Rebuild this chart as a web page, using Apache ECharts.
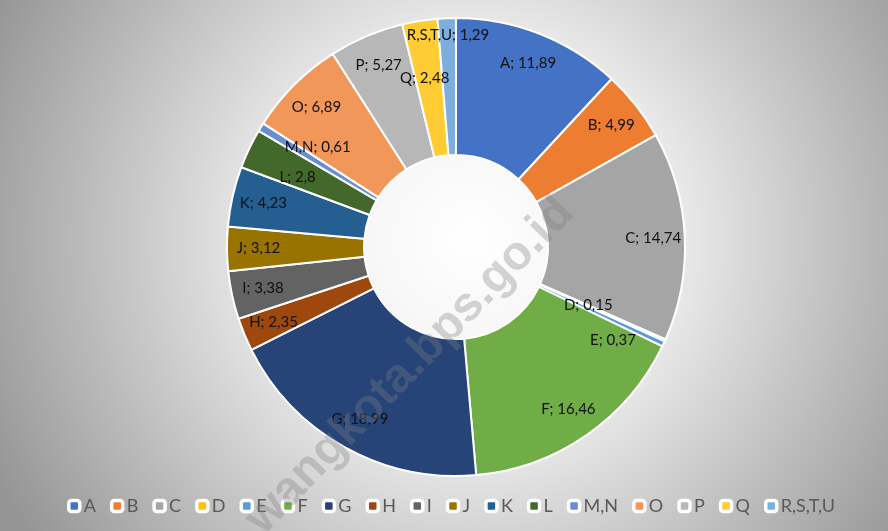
<!DOCTYPE html>
<html>
<head>
<meta charset="utf-8">
<script src="https://cdn.jsdelivr.net/npm/echarts@6/dist/echarts.min.js"></script>
<style>
  html, body { margin: 0; padding: 0; }
  #chart { width: 888px; height: 531px; }
</style>
</head>
<body>
<div id="chart"></div>
<script>
// sector shares (comma decimals in the source)
const categories = ["A", "B", "C", "D", "E", "F", "G", "H", "I", "J", "K", "L", "M,N", "O", "P", "Q", "R,S,T,U"];
const values = [11.89, 4.99, 14.74, 0.15, 0.37, 16.46, 18.99, 2.35, 3.38, 3.12, 4.23, 2.8, 0.61, 6.89, 5.27, 2.48, 1.29];
const colors = ["#4472C4", "#ED7D31", "#A5A5A5", "#FFC000", "#5B9BD5", "#70AD47", "#264478", "#9E480E",
  "#636363", "#997300", "#255E91", "#43682B", "#698ED0", "#F1975A", "#B7B7B7", "#FFCD33", "#7CAFDD"];

// small nudges for crowded labels, like the spreadsheet did by hand
const labelNudge = { "D": [-48, -22], "E": [-22, 10], "Q": [0, 26], "R,S,T,U": [0, -15], "M,N": [30, 4], "L": [20, 15] };

const FONT = "Lato, 'Open Sans', sans-serif";
const chart = echarts.init(document.getElementById("chart"), null, { renderer: "canvas" });

const fmt = (v) => String(v).replace(".", ",");
const ringData = categories.map((name, i) => ({ name, value: values[i] }));
const labelData = categories.map((name, i) => {
  const item = { name, value: values[i] };
  if (labelNudge[name]) item.label = { offset: labelNudge[name] };
  return item;
});

chart.setOption({
  backgroundColor: {
    type: "radial", x: 0.53, y: 0.45, r: 1.0,
    colorStops: [
      { offset: 0, color: "#ffffff" },
      { offset: 0.35, color: "#f0f0f0" },
      { offset: 1, color: "#959595" }
    ]
  },
  color: colors,
  animation: false,
  legend: {
    bottom: 11,
    left: 62,
    icon: "roundRect",
    itemWidth: 11,
    itemHeight: 11,
    itemGap: 14,
    itemStyle: { borderColor: "#ffffff", borderWidth: 3.5 },
    textStyle: { color: "#595959", fontSize: 18, fontFamily: FONT, padding: [0, 0, 0, -1] },
    data: categories
  },
  graphic: [{
    type: "text",
    x: 410, y: 366,
    rotation: 0.8,
    z: 100,
    silent: true,
    style: {
      text: "wangkota.bps.go.id",
      fill: "rgba(128,128,128,0.33)",
      font: "bold 48px 'Liberation Sans', Arial, sans-serif",
      align: "center",
      verticalAlign: "middle"
    }
  }],
  series: [
    {
      name: "share",
      type: "pie",
      center: [456, 247],
      radius: [92, 229],
      startAngle: 90,
      clockwise: true,
      avoidLabelOverlap: false,
      itemStyle: { borderColor: "#ffffff", borderWidth: 2 },
      label: { show: false },
      labelLine: { show: false },
      emphasis: { scale: false },
      data: ringData
    },
    {
      // transparent ring used only to place the value labels near the outer edge
      name: "labels",
      type: "pie",
      center: [456, 247],
      radius: [160, 229],
      startAngle: 90,
      clockwise: true,
      silent: true,
      avoidLabelOverlap: false,
      itemStyle: { color: "rgba(0,0,0,0)", borderWidth: 0 },
      label: {
        show: true,
        position: "inside",
        color: "#111111",
        fontSize: 15,
        fontFamily: FONT,
        formatter: (p) => p.name + "; " + fmt(p.value)
      },
      labelLine: { show: false },
      labelLayout: { hideOverlap: false },
      emphasis: { disabled: true },
      data: labelData
    }
  ]
});
</script>
</body>
</html>
